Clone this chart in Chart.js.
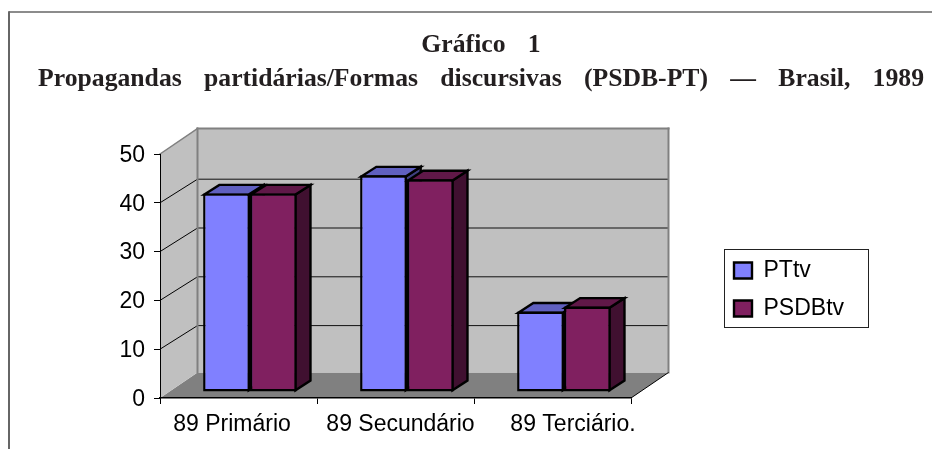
<!DOCTYPE html>
<html>
<head>
<meta charset="utf-8">
<script src="https://cdn.jsdelivr.net/npm/chart.js@4/dist/chart.umd.min.js"></script>
<style>html,body{margin:0;padding:0;background:#fff;overflow:hidden}canvas{display:block}</style>
</head>
<body>
<canvas id="c" width="932" height="449" style="width:932px;height:449px"></canvas>
<script>
const categories = ['89 Primário', '89 Secundário', '89 Terciário.'];
const ptTv = [40.7, 44.4, 16.5];
const psdbTv = [40.7, 43.6, 17.5];
const titleLines = ['Gráfico   1', 'Propagandas   partidárias/Formas   discursivas   (PSDB-PT)   —   Brasil,   1989'];
const yTicks = [0, 10, 20, 30, 40, 50];
const xLabelShift = [-6.5, 5, 20.5];
const yLabelShift = 1.5;

const WALL_DX = 37.5, WALL_DY = -25.5, GRID_DY = -23.6;
const BAR_OX = 11.4, BAR_OY = -6;
const BAR_DX = 15, BAR_DY = -9.7;
const FONT = 'Arial, "Liberation Sans", sans-serif';

function poly(ctx, pts, fill, stroke, lw) {
  ctx.beginPath();
  pts.forEach((p, i) => i ? ctx.lineTo(p[0], p[1]) : ctx.moveTo(p[0], p[1]));
  ctx.closePath();
  if (fill) { ctx.fillStyle = fill; ctx.fill(); }
  if (stroke) { ctx.strokeStyle = stroke; ctx.lineWidth = lw; ctx.lineJoin = 'miter'; ctx.stroke(); }
}
function line(ctx, x1, y1, x2, y2, color, lw) {
  ctx.beginPath(); ctx.moveTo(x1, y1); ctx.lineTo(x2, y2);
  ctx.strokeStyle = color; ctx.lineWidth = lw; ctx.stroke();
}

const scene3d = {
  id: 'scene3d',
  afterLayout(chart) {
    const t = chart.titleBlock;
    t.left = 0; t.right = 962; t.width = 962;
    if (!t._spaced) {
      const drawTitle = t.draw;
      t.draw = function () {
        chart.ctx.wordSpacing = '1px';
        drawTitle.apply(t, arguments);
        chart.ctx.wordSpacing = '0px';
      };
      t._spaced = true;
    }
    const l = chart.legend;
    const w = l.right - l.left, h = l.bottom - l.top;
    l.left = 719; l.right = 719 + w; l.top = 244; l.bottom = 244 + h;
  },
  beforeDraw(chart) {
    const ctx = chart.ctx, a = chart.chartArea, y = chart.scales.y;
    const L = a.left, R = a.right, T = y.getPixelForValue(50), B = y.getPixelForValue(0);
    chart.scales.x.getLabelItems().forEach((item, i) => {
      if (!item._shifted) { item.options.translation[0] += xLabelShift[i]; item._shifted = true; }
    });
    y.getLabelItems().forEach(item => {
      if (!item._shifted) { item.options.translation[1] += yLabelShift; item._shifted = true; }
    });
    ctx.save();
    line(ctx, 9, 12, 932, 12, '#666666', 1.5);
    line(ctx, 9, 11.3, 9, 449, '#666666', 2);
    poly(ctx, [[L, B], [L + WALL_DX, B + WALL_DY], [R + WALL_DX, B + WALL_DY], [R, B]], '#808080');
    poly(ctx, [[L, B], [L, T], [L + WALL_DX, T + WALL_DY], [L + WALL_DX, B + WALL_DY]], '#c0c0c0');
    poly(ctx, [[L + WALL_DX, T + WALL_DY], [R + WALL_DX, T + WALL_DY], [R + WALL_DX, B + WALL_DY], [L + WALL_DX, B + WALL_DY]], '#c0c0c0');
    yTicks.forEach(v => {
      if (v === 0 || v === 50) return;
      const p = y.getPixelForValue(v);
      line(ctx, L, p, L + WALL_DX, p + GRID_DY, '#000000', 1);
      line(ctx, L + WALL_DX, p + GRID_DY, R + WALL_DX, p + GRID_DY, '#111111', 1);
    });
    ctx.lineCap = 'square';
    line(ctx, L, T, L + WALL_DX, T + WALL_DY, '#808080', 1.5);
    line(ctx, L + WALL_DX, T + WALL_DY, R + WALL_DX, T + WALL_DY, '#808080', 2);
    line(ctx, L + WALL_DX, T + WALL_DY, L + WALL_DX, B + WALL_DY, '#808080', 2);
    line(ctx, R + WALL_DX, T + WALL_DY, R + WALL_DX, B + WALL_DY, '#808080', 2);
    ctx.lineCap = 'butt';
    line(ctx, R, B, R + WALL_DX, B + WALL_DY, '#000000', 1);
    ctx.restore();
  },
  beforeDatasetsDraw(chart) {
    const ctx = chart.ctx;
    [0, 1].forEach(i => {
      const meta = chart.getDatasetMeta(i);
      const ds = chart.data.datasets[i];
      ctx.save();
      ctx.translate(BAR_OX, BAR_OY);
      meta.data.forEach(el => {
        const x0 = el.x - el.width / 2, x1 = el.x + el.width / 2, t = el.y, b = el.base;
        const sw = 1.2;
        poly(ctx, [[x1 - sw, t + sw], [x1 - sw + BAR_DX, t + sw + BAR_DY], [x1 - sw + BAR_DX, b - sw + BAR_DY], [x1 - sw, b - sw]], ds.sideColor, '#000000', 2.4);
        poly(ctx, [[x0 + sw, t + sw], [x0 + sw + BAR_DX, t + sw + BAR_DY], [x1 - sw + BAR_DX, t + sw + BAR_DY], [x1 - sw, t + sw]], ds.topColor, '#000000', 2.4);
      });
      meta.controller.draw();
      ctx.restore();
    });
  },
  beforeDatasetDraw() { return false; },
  afterDraw(chart) {
    const ctx = chart.ctx;
    ctx.save();
    ctx.strokeStyle = '#222222'; ctx.lineWidth = 1;
    ctx.strokeRect(724.5, 249.5, 144, 78);
    ctx.restore();
  }
};

new Chart(document.getElementById('c'), {
  type: 'bar',
  data: {
    labels: categories,
    datasets: [
      { label: 'PTtv', data: ptTv, backgroundColor: '#8080ff', borderColor: '#000000', borderWidth: 2.4, borderSkipped: false, topColor: '#6060c0', sideColor: '#404080' },
      { label: 'PSDBtv', data: psdbTv, backgroundColor: '#802060', borderColor: '#000000', borderWidth: 2.4, borderSkipped: false, topColor: '#601848', sideColor: '#401030' }
    ]
  },
  plugins: [scene3d],
  options: {
    responsive: false,
    animation: false,
    devicePixelRatio: 1,
    layout: { padding: { left: 0, right: 301, top: 0, bottom: 0 } },
    datasets: { bar: { categoryPercentage: 0.596, barPercentage: 1 } },
    scales: {
      x: {
        grid: { drawOnChartArea: false, offset: true, tickLength: 6, tickColor: '#000000', tickWidth: 1 },
        border: { color: '#000000', width: 1.5 },
        ticks: { font: { family: FONT, size: 23 }, color: '#000000', maxRotation: 0, autoSkip: false, padding: 7 },
        afterFit(s) { s.height = 51; }
      },
      y: {
        min: 0, max: 50,
        grid: { drawOnChartArea: false, tickLength: 6, tickColor: '#000000', tickWidth: 1 },
        border: { color: '#000000', width: 1 },
        ticks: { stepSize: 10, font: { family: FONT, size: 23 }, color: '#000000', padding: 9 },
        afterFit(s) { s.width = 160; }
      }
    },
    plugins: {
      tooltip: { enabled: false },
      title: {
        display: true,
        text: titleLines,
        color: '#231f20',
        font: { family: '"Liberation Serif", serif', size: 25.7, weight: 'bold', lineHeight: 34 / 25.7 },
        padding: { top: 28, bottom: 58 }
      },
      legend: {
        position: 'chartArea',
        align: 'start',
        labels: {
          boxWidth: 18, boxHeight: 16, padding: 15,
          font: { family: FONT, size: 23 }, color: '#000000'
        }
      }
    }
  }
});
</script>
</body>
</html>
